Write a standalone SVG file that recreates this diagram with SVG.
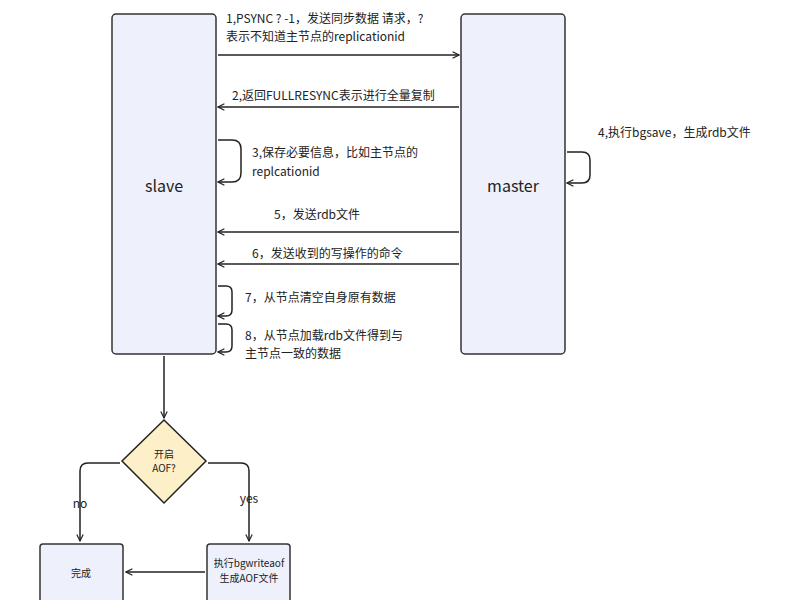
<svg xmlns="http://www.w3.org/2000/svg" width="800" height="600" viewBox="0 0 800 600">
<defs>
<marker id="ah" viewBox="0 0 10 10" refX="9" refY="5" markerWidth="8" markerHeight="8" orient="auto-start-reverse" markerUnits="userSpaceOnUse"><path d="M1,1 L9,5 L1,9" fill="none" stroke="#222" stroke-width="1.5"/></marker>
</defs>
<style>
text{font-family:"Noto Sans CJK SC","Noto Sans",sans-serif;fill:#222}
.n{fill:#eef1fb;stroke:#333;stroke-width:1.5}
.c{fill:none;stroke:#222;stroke-width:1.5;marker-end:url(#ah)}
.l{font-size:12px}
</style>
<rect width="800" height="600" fill="#fff"/>
<g id="slave"><rect class="n" x="112" y="14" width="104" height="340" rx="4"/><text x="164" y="192" font-size="16" text-anchor="middle">slave</text></g>
<g id="master"><rect class="n" x="461" y="14" width="104" height="340" rx="4"/><text x="513" y="192" font-size="16" text-anchor="middle">master</text></g>
<g id="decision"><polygon points="164,420 206,461 164,503 122,461" fill="#fdf0c8" stroke="#222" stroke-width="1.5"/><text x="164" y="458" font-size="10" text-anchor="middle">开启</text><text x="164" y="472" font-size="10" text-anchor="middle">AOF?</text></g>
<g id="done"><rect class="n" x="40" y="544" width="83" height="62" rx="3"/><text x="81" y="577" font-size="10" text-anchor="middle">完成</text></g>
<g id="bgwrite"><rect class="n" x="207" y="544" width="83" height="62" rx="3"/><text x="249" y="567" font-size="10" text-anchor="middle">执行bgwriteaof</text><text x="249" y="582" font-size="10" text-anchor="middle">生成AOF文件</text></g>
<g id="connectors">
<path class="c" d="M218,55 H459"/>
<path class="c" d="M459,107 H218"/>
<path class="c" d="M218,140 H232 Q241,140 241,149 V173 Q241,182 232,182 H218"/>
<path class="c" d="M567,152 H582 Q590,152 590,160 V175 Q590,183 582,183 H567"/>
<path class="c" d="M459,232 H218"/>
<path class="c" d="M459,264 H218"/>
<path class="c" d="M218,286 H226 Q232,286 232,292 V310 Q232,316 226,316 H218"/>
<path class="c" d="M218,324 H226 Q232,324 232,330 V346 Q232,352 226,352 H218"/>
<path class="c" d="M164,356 V418"/>
<path class="c" d="M120,463 H88 Q80,463 80,471 V541"/>
<path class="c" d="M208,463 H241 Q249,463 249,471 V541"/>
<path class="c" d="M205,572 H126"/>
</g>
<g id="labels">
<text class="l" x="226" y="23">1,PSYNC ? -1，发送同步数据 请求，?</text>
<text class="l" x="226" y="41">表示不知道主节点的replicationid</text>
<text class="l" x="232" y="100">2,返回FULLRESYNC表示进行全量复制</text>
<text class="l" x="252" y="157">3,保存必要信息，比如主节点的</text>
<text class="l" x="252" y="176">replcationid</text>
<text class="l" x="598" y="137">4,执行bgsave，生成rdb文件</text>
<text class="l" x="274" y="219">5，发送rdb文件</text>
<text class="l" x="252" y="258">6，发送收到的写操作的命令</text>
<text class="l" x="245" y="302">7，从节点清空自身原有数据</text>
<text class="l" x="245" y="340">8，从节点加载rdb文件得到与</text>
<text class="l" x="245" y="358">主节点一致的数据</text>
<text x="80" y="508" font-size="12" text-anchor="middle">no</text>
<text x="249" y="503" font-size="12" text-anchor="middle">yes</text>
</g>
</svg>
